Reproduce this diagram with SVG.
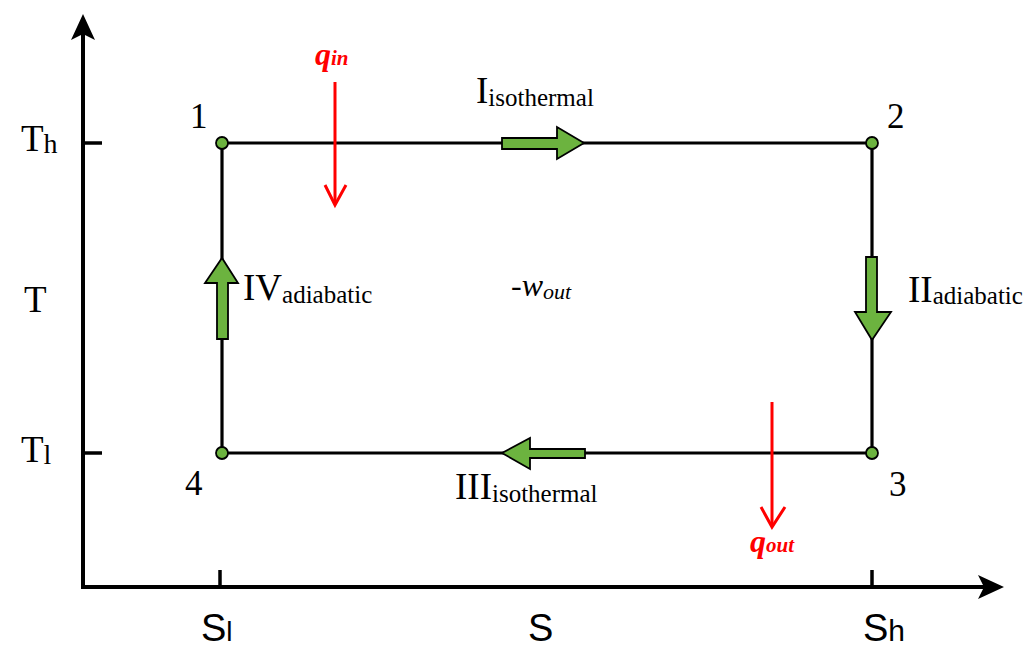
<svg xmlns="http://www.w3.org/2000/svg" width="1031" height="653" viewBox="0 0 1031 653">
<style>
.serif{font-family:"Liberation Serif","Times New Roman",serif;fill:#000}
.sans{font-family:"Liberation Sans",Arial,sans-serif;fill:#000}
.big{font-size:37px}
.sub{font-size:25px}
.num{font-size:35px}
.ax{stroke:#000;stroke-width:4;fill:none}
.tick{stroke:#000;stroke-width:3.5;fill:none}
.edge{stroke:#000;stroke-width:3.2;fill:none}
.garrow{fill:#6cb33f;stroke:#000;stroke-width:1.8;stroke-linejoin:miter}
.pt{fill:#6cb33f;stroke:#000;stroke-width:1.8}
.red{stroke:#f00;stroke-width:3;fill:none}
.qlab{font-family:"Liberation Serif","Times New Roman",serif;font-style:italic;font-weight:bold;fill:#f00}
</style>
<rect width="1031" height="653" fill="#fff"/>
<g id="axes">
  <line class="ax" x1="83" y1="589" x2="83" y2="30"/>
  <path d="M83,14 L95,40 L83,34 L71,40 Z" fill="#000"/>
  <line class="ax" x1="81" y1="587" x2="990" y2="587"/>
  <path d="M1004,587 L978,575 L984,587 L978,599 Z" fill="#000"/>
  <line class="tick" x1="83" y1="143" x2="102" y2="143"/>
  <line class="tick" x1="83" y1="453" x2="102" y2="453"/>
  <line class="tick" x1="220" y1="570" x2="220" y2="587"/>
  <line class="tick" x1="872" y1="570" x2="872" y2="587"/>
  <text class="serif big" x="21" y="151">T<tspan font-size="28" dy="2">h</tspan></text>
  <text class="serif big" x="24" y="312">T</text>
  <text class="serif big" x="21" y="462">T<tspan font-size="28" dy="2">l</tspan></text>
  <text class="sans" font-size="38" x="201" y="641">S<tspan font-size="28">l</tspan></text>
  <text class="sans" font-size="38" x="528" y="641">S</text>
  <text class="sans" font-size="38" x="863" y="641">S<tspan font-size="30">h</tspan></text>
</g>
<g id="connectors">
  <line id="edge-I" class="edge" x1="222" y1="143" x2="872" y2="143"/>
  <line id="edge-II" class="edge" x1="872" y1="143" x2="872" y2="453"/>
  <line id="edge-III" class="edge" x1="872" y1="453" x2="222" y2="453"/>
  <line id="edge-IV" class="edge" x1="222" y1="453" x2="222" y2="143"/>
  <polygon class="garrow" points="502,138 557,138 557,127 584,143 557,159 557,149 502,149"/>
  <polygon class="garrow" points="866,257 877,257 877,312 891,312 872,340 855,312 866,312"/>
  <polygon class="garrow" points="585,449 530,449 530,438 502,453 530,469 530,458 585,458"/>
  <polygon class="garrow" points="217,339 228,339 228,283 238,283 222,258 205,283 217,283"/>
  <line class="red" x1="335" y1="82" x2="335" y2="204"/>
  <polyline class="red" points="325,185 335,205 346,185"/>
  <line class="red" x1="772" y1="402" x2="772" y2="526"/>
  <polyline class="red" points="761,507 772,527 785,507"/>
</g>
<g id="node-1">
  <circle class="pt" cx="222" cy="143" r="6"/>
  <text class="serif num" x="190" y="128">1</text>
</g>
<g id="node-2">
  <circle class="pt" cx="872" cy="143" r="6"/>
  <text class="serif num" x="887" y="128">2</text>
</g>
<g id="node-3">
  <circle class="pt" cx="872" cy="453" r="6"/>
  <text class="serif num" x="889" y="496">3</text>
</g>
<g id="node-4">
  <circle class="pt" cx="222" cy="453" r="6"/>
  <text class="serif num" x="185" y="495">4</text>
</g>
<g id="labels">
  <text class="serif big" x="476" y="103">I<tspan class="sub" dy="3">isothermal</tspan></text>
  <text class="serif big" x="908" y="302">II<tspan class="sub" dy="2">adiabatic</tspan></text>
  <text class="serif big" x="455" y="499">III<tspan class="sub" dy="3">isothermal</tspan></text>
  <text class="serif big" x="243" y="300">IV<tspan class="sub" dy="3">adiabatic</tspan></text>
  <text class="serif" font-size="32" x="511" y="296">-<tspan font-style="italic">w</tspan><tspan font-style="italic" font-size="22" dy="3">out</tspan></text>
  <text class="qlab" font-size="32" x="315" y="65">q<tspan font-size="21">in</tspan></text>
  <text class="qlab" font-size="32" x="750" y="552">q<tspan font-size="21">out</tspan></text>
</g>
</svg>
